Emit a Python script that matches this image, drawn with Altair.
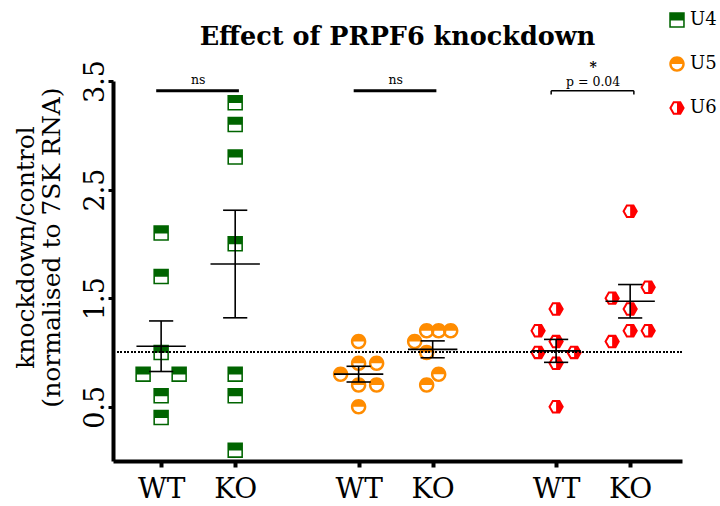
import altair as alt
import pandas as pd
import numpy as np

# ---------------- data ----------------
snrnas = ["U4", "U5", "U6"]
genotypes = ["WT", "KO"]

u4_wt = [2.1, 1.7, 1.0, 0.8, 0.8, 0.6, 0.4]
u4_ko = [3.3, 3.1, 2.8, 2.0, 0.8, 0.6, 0.1]
u5_wt = [1.1, 0.9, 0.9, 0.8, 0.7, 0.7, 0.5]
u5_ko = [1.2, 1.2, 1.2, 1.1, 1.0, 0.8, 0.7]
u6_wt = [1.4, 1.2, 1.1, 1.0, 1.0, 0.9, 0.5]
u6_ko = [2.3, 1.6, 1.5, 1.4, 1.2, 1.2, 1.1]

# horizontal spread of overlapping points (in marker slots), as drawn
u4_wt_spread = [0, 0, 0, -1, 1, 0, 0]
u4_ko_spread = [0, 0, 0, 0, 0, 0, 0]
u5_wt_spread = [0, 0, 1, -1, 0, 1, 0]
u5_ko_spread = [-1/3, 1/3, 1, -1, -1/3, 1/3, -1/3]
u6_wt_spread = [0, -1, 0, -1, 1, 0, 0]
u6_ko_spread = [0, 1, -1, 0, 0, 1, -1]

sig_labels = ["ns", "ns", "*"]
p_labels = ["", "", "p = 0.04"]

colors = ["#006400", "#FF8C00", "#FF0000"]

values = {("U4", "WT"): u4_wt, ("U4", "KO"): u4_ko,
          ("U5", "WT"): u5_wt, ("U5", "KO"): u5_ko,
          ("U6", "WT"): u6_wt, ("U6", "KO"): u6_ko}
spreads = {("U4", "WT"): u4_wt_spread, ("U4", "KO"): u4_ko_spread,
           ("U5", "WT"): u5_wt_spread, ("U5", "KO"): u5_ko_spread,
           ("U6", "WT"): u6_wt_spread, ("U6", "KO"): u6_ko_spread}

# ---------------- layout helpers ----------------
GROUP_STEP = 8.0
GENO_STEP = 3.0
SLOT = 0.73

rows, summ = [], []
for gi, s in enumerate(snrnas):
    for ki, g in enumerate(genotypes):
        center = gi * GROUP_STEP + ki * GENO_STEP
        v = values[(s, g)]
        for val, sp in zip(v, spreads[(s, g)]):
            rows.append({"snRNA": s, "genotype": g, "value": val,
                         "pos": center + sp * SLOT})
        arr = np.array(v)
        m = arr.mean()
        se = arr.std(ddof=1) / np.sqrt(len(arr))
        summ.append({"snRNA": s, "genotype": g, "pos": center, "mean": m,
                     "lo": m - se, "hi": m + se,
                     "mx1": center - 1.0, "mx2": center + 1.0,
                     "cx1": center - 0.49, "cx2": center + 0.49})
pts = pd.DataFrame(rows)
sm = pd.DataFrame(summ)
caps = pd.concat([
    sm.assign(cy=sm["lo"]), sm.assign(cy=sm["hi"])
])

BAR_Y = 3.41
sig = pd.DataFrame({
    "snRNA": snrnas,
    "x1": [gi * GROUP_STEP - 0.2 for gi in range(3)],
    "x2": [gi * GROUP_STEP + GENO_STEP + 0.15 for gi in range(3)],
    "xc": [gi * GROUP_STEP + GENO_STEP / 2 for gi in range(3)],
    "y": [BAR_Y] * 3,
    "y_tick": [BAR_Y - 0.035] * 3,
    "label": sig_labels,
    "plabel": p_labels,
})
sig["significant"] = sig["plabel"] != ""

# ---------------- shapes (half-filled markers) ----------------
sq = "M-1,-1H1V1H-1Z M-0.8,0.05V0.8H0.8V0.05Z"
ci = ("M-1,0A1,1 0 0,1 0,-1A1,1 0 0,1 1,0A1,1 0 0,1 0,1A1,1 0 0,1 -1,0Z "
      "M-0.68,0A0.68,0.68 0 0,0 0,0.68A0.68,0.68 0 0,0 0.68,0Z")
hx = ("M-1,0L-0.5,-0.866L0.5,-0.866L1,0L0.5,0.866L-0.5,0.866Z "
      "M-0.7,0L-0.35,0.606L0,0.606L0,-0.606L-0.35,-0.606Z")

FONT = "DejaVu Serif"

xscale = alt.Scale(domain=[-1.95, 21.1], nice=False, zero=False)
yscale = alt.Scale(domain=[0, 3.5], nice=False, zero=False)

tick_pos = [gi * GROUP_STEP + ki * GENO_STEP for gi in range(3) for ki in range(2)]

xaxis = alt.Axis(values=tick_pos, title=None,
                 labelExpr="datum.value % 8 == 0 ? 'WT' : 'KO'",
                 labelFont=FONT, labelFontSize=28, labelColor="black",
                 labelPadding=8, labelAngle=0, labelFlush=False, labelOverlap=False,
                 tickSize=6, tickWidth=4, tickColor="black",
                 domainWidth=4, domainColor="black", grid=False)
yaxis = alt.Axis(values=[0.5, 1.5, 2.5, 3.5], format=".1f",
                 title=["knockdown/control", "(normalised to 7SK RNA)"],
                 titleFont=FONT, titleFontSize=25, titleFontWeight="normal",
                 titleColor="black", titleAngle=-90, titleX=-100, titleY=166,
                 titleAlign="center", titleBaseline="top", titleLineHeight=26,
                 labelFont=FONT, labelFontSize=27, labelColor="black",
                 labelAngle=-90, labelAlign="center", labelBaseline="alphabetic",
                 labelPadding=5, labelFlush=False, labelOverlap=False,
                 tickSize=5, tickWidth=3, tickColor="black",
                 domainWidth=4, domainColor="black", grid=False)

legend = alt.Legend(title=None, orient="none", legendX=555, legendY=-70,
                    symbolSize=240, symbolStrokeWidth=0, symbolOpacity=1,
                    labelFont=FONT, labelFontSize=18, labelColor="black",
                    labelOffset=4, rowPadding=26, padding=0)

points = alt.Chart(pts).mark_point(filled=True, size=240, opacity=1, strokeWidth=0).encode(
    x=alt.X("pos:Q", scale=xscale, axis=xaxis),
    y=alt.Y("value:Q", scale=yscale, axis=yaxis),
    color=alt.Color("snRNA:N", scale=alt.Scale(domain=snrnas, range=colors), legend=legend),
    shape=alt.Shape("snRNA:N", scale=alt.Scale(domain=snrnas, range=[sq, ci, hx]), legend=legend),
)

refline = alt.Chart(pts).mark_rule(color="black", strokeWidth=1.3, strokeDash=[1.5, 2]).encode(
    y=alt.datum(1.0)
)

mean_line = alt.Chart(sm).mark_rule(color="black", strokeWidth=1.6).encode(
    x="mx1:Q", x2="mx2:Q", y="mean:Q")
sem_line = alt.Chart(sm).mark_rule(color="black", strokeWidth=1.6).encode(
    x="pos:Q", y="lo:Q", y2="hi:Q")
cap_line = alt.Chart(caps).mark_rule(color="black", strokeWidth=1.6).encode(
    x="cx1:Q", x2="cx2:Q", y="cy:Q")

ns_bar = alt.Chart(sig).transform_filter("!datum.significant").mark_rule(
    color="black", strokeWidth=3).encode(x="x1:Q", x2="x2:Q", y="y:Q")
s_bar = alt.Chart(sig).transform_filter("datum.significant").mark_rule(
    color="black", strokeWidth=1.5).encode(x="x1:Q", x2="x2:Q", y="y:Q")
s_tick1 = alt.Chart(sig).transform_filter("datum.significant").mark_rule(
    color="black", strokeWidth=1.5).encode(x="x1:Q", y="y:Q", y2="y_tick:Q")
s_tick2 = alt.Chart(sig).transform_filter("datum.significant").mark_rule(
    color="black", strokeWidth=1.5).encode(x="x2:Q", y="y:Q", y2="y_tick:Q")

ns_text = alt.Chart(sig).transform_filter("!datum.significant").mark_text(
    font=FONT, fontSize=12.5, color="black", baseline="alphabetic", dy=-7).encode(
    x="xc:Q", y="y:Q", text="label:N")
p_text = alt.Chart(sig).transform_filter("datum.significant").mark_text(
    font=FONT, fontSize=12.5, color="black", baseline="alphabetic", dy=-5).encode(
    x="xc:Q", y="y:Q", text="plabel:N")
star_text = alt.Chart(sig).transform_filter("datum.significant").mark_text(
    font=FONT, fontSize=14, fontWeight="bold", color="black", baseline="alphabetic", dy=-19).encode(
    x="xc:Q", y="y:Q", text="label:N")

chart = alt.layer(
    points, refline, mean_line, sem_line, cap_line,
    ns_bar, s_bar, s_tick1, s_tick2, ns_text, p_text, star_text
).properties(
    width=569, height=380,
    title=alt.TitleParams("Effect of PRPF6 knockdown", font=FONT, fontSize=25.5,
                          fontWeight="bold", color="black", anchor="middle",
                          frame="group", baseline="alphabetic", offset=0, dy=59),
    autosize=alt.AutoSizeParams(type="none"),
    padding={"left": 113, "top": 81, "right": 38, "bottom": 45},
).configure(background="white").configure_view(stroke=None)

chart.save("out.html", embed_options={"renderer": "svg", "actions": False})
